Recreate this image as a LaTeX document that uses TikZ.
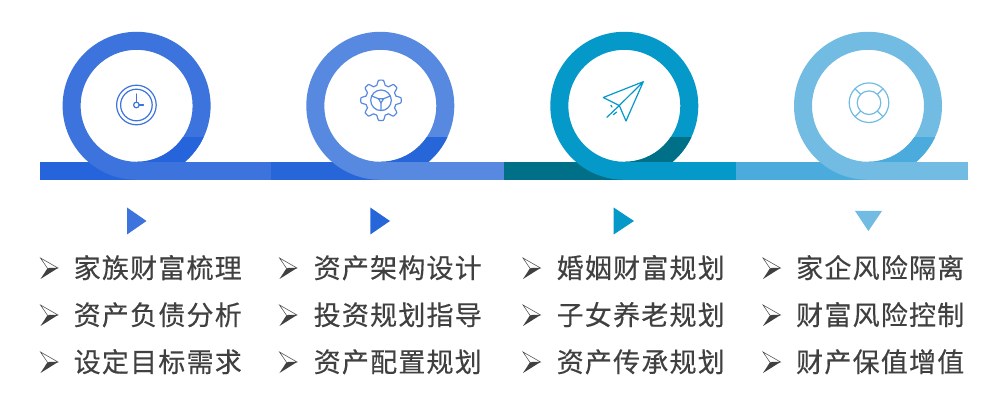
\documentclass[tikz,border=0pt]{standalone}
\usepackage{fontspec}
\newfontfamily\cjk[LetterSpace=4.5,FakeBold=0.35]{Noto Sans CJK SC}
\definecolor{la}{HTML}{3C73DC}\definecolor{da}{HTML}{2564DA}
\definecolor{lb}{HTML}{5889E0}\definecolor{db}{HTML}{2766D8}
\definecolor{lc}{HTML}{0499C9}\definecolor{dc}{HTML}{006F88}
\definecolor{ld}{HTML}{72BBE3}\definecolor{dd}{HTML}{4BABDC}
\definecolor{ink}{HTML}{404040}
\tikzset{
  item/.style={anchor=base west,inner sep=0pt,text=ink,font=\cjk\fontsize{27}{27}\selectfont},
  iconline/.style={line width=1.2pt,line cap=round,line join=round},
}
\newcommand{\bulletmark}[2]{%
  \begin{scope}[shift={(#1,#2)}]
    \draw[ink,line width=.5pt,line join=miter] (0,-10)--(17.5,0)--(7,0.3)--cycle;
    \fill[ink] (17.5,0)--(0,11)--(7,0.3)--cycle;
  \end{scope}}
\begin{document}
\begin{tikzpicture}[x=1pt,y=-1pt]
\useasboundingbox (0,0) rectangle (997,406);
\fill[white] (0,0) rectangle (997,406);
\foreach \cx/\xa/\xb/\li/\da in {136.6/40/271/la/da,380.3/271/504/lb/db,624.3/504/736/lc/dc,868/736/968/ld/dd}{
  \fill[\da] (\xa,162) rectangle (\cx,180);
  \fill[\li] (\cx,162) rectangle (\xb,180);
  \fill[\li,even odd rule] (\cx,105.8) circle[radius=74] (\cx,105.8) circle[radius=56];
  \begin{scope}
    \clip (\cx,138) rectangle (\cx+80,162);
    \fill[\da,even odd rule] (\cx,105.8) circle[radius=74] (\cx,105.8) circle[radius=56];
  \end{scope}
}
% clock
\draw[la,iconline] (136.4,105) circle[radius=19.8] (136.4,105) circle[radius=15.8] (136.4,105) circle[radius=2.8];
\draw[la,iconline] (136.4,102.2)--(136.4,94) (139.2,105)--(143.5,105);
% gear
\begin{scope}[shift={(381,100.3)}]
  \draw[lb,iconline] plot[domain=0:360,samples=241] (\x:{17.8+2.4*min(1,max(-1,1.7*cos(8*\x)))}) -- cycle;
  \draw[lb,iconline] (0,0) circle[radius=10.3];
  \draw[lb,iconline] (-2.6,-1.6)--(2.6,-1.6)--(0,2.6)--cycle;
  \draw[lb,iconline] (-2.6,-1.6)--(-9,-4.2) (2.6,-1.6)--(9,-4.2) (0,2.6)--(0,10);
\end{scope}
% plane
\draw[lc,iconline] (603.3,97.5)--(643.3,81.7)--(626,121)--(619.3,105.5)--(603.3,97.5)
  (643.3,81.7)--(619.3,105.5)--(606.9,117.3)
  (610.9,105.3)--(612,107) (613.3,114.7)--(616.7,112);
% life ring
\begin{scope}[shift={(869,102.7)}]
  \draw[ld,iconline] (0,0) circle[radius=19.8] (0,0) circle[radius=11.8];
  \foreach \a in {45,135,225,315}{
    \draw[ld,iconline] (\a:11.8)--(\a:19.8);
  }
\end{scope}
% markers
\fill[la] (127,207.5)--(146.5,221)--(127,234.5)--cycle;
\fill[db] (370.3,207.5)--(390,221)--(370.3,234.5)--cycle;
\fill[lc] (613.7,207.5)--(634,221)--(613.7,234.5)--cycle;
\fill[ld] (855,211)--(882,211)--(868.4,231)--cycle;
% bullets
\foreach \bx in {40.5,279.5,523,763}{
  \foreach \by in {268,315,362}{ \bulletmark{\bx}{\by} }
}
% texts
\node[item] (a1) at (73.5,278) {家族财富梳理};
\node[item] (a2) at (73.5,325) {资产负债分析};
\node[item] (a3) at (73.5,372) {设定目标需求};
\node[item] (b1) at (313.5,278) {资产架构设计};
\node[item] (b2) at (313.5,325) {投资规划指导};
\node[item] (b3) at (313.5,372) {资产配置规划};
\node[item] (c1) at (556.5,278) {婚姻财富规划};
\node[item] (c2) at (556.5,325) {子女养老规划};
\node[item] (c3) at (556.5,372) {资产传承规划};
\node[item] (d1) at (796,278) {家企风险隔离};
\node[item] (d2) at (796,325) {财富风险控制};
\node[item] (d3) at (796,372) {财产保值增值};
\end{tikzpicture}
\end{document}
